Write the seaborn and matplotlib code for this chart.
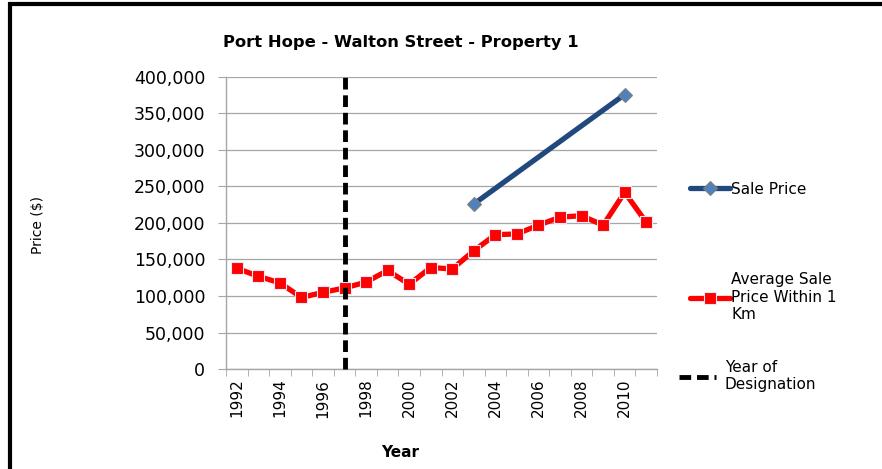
import matplotlib
matplotlib.use("Agg")
import matplotlib.pyplot as plt
from matplotlib.lines import Line2D
from matplotlib.patches import Rectangle
from matplotlib.ticker import FuncFormatter, FixedLocator
import numpy as np
import pandas as pd
import seaborn as sns

# data
years = list(range(1992, 2012))
avg_price = [138000, 127000, 118000, 98000, 105000, 111000, 119000, 135000, 116000, 139000,
             137000, 162000, 184000, 185000, 197000, 208000, 210000, 197000, 242000, 201000]
sale_years = [2003, 2010]
sale_price = [226000, 376000]
designation_year = 1997

df_avg = pd.DataFrame({"Year": years, "Price": avg_price})
df_sale = pd.DataFrame({"Year": sale_years, "Price": sale_price})

sns.set_style("white")
plt.rcParams["font.family"] = ["DejaVu Sans"]
plt.rcParams["text.color"] = "black"
plt.rcParams["xtick.labelcolor"] = "black"
plt.rcParams["ytick.labelcolor"] = "black"

fig = plt.figure(figsize=(8.82, 4.69), dpi=100)
ax = fig.add_axes([226 / 882, 1 - 369 / 469, (657 - 226) / 882, (369 - 77) / 469])

sns.lineplot(data=df_sale, x="Year", y="Price", ax=ax, color="#22497e", linewidth=3.8,
             marker="D", markersize=7, markerfacecolor="#4f81bd", markeredgecolor="#7f7f7f",
             markeredgewidth=0.8, label="Sale Price", zorder=3)
sns.lineplot(data=df_avg, x="Year", y="Price", ax=ax, color="#ff0000", linewidth=3.8,
             marker="s", markersize=9, markerfacecolor="#ff0000", markeredgecolor="#e8e8f8",
             markeredgewidth=0.8, label="Average Sale\nPrice Within 1\nKm", zorder=3)
ax.axvline(designation_year, ymin=0, ymax=1.017, color="black", linewidth=3.5,
           linestyle=(0, (2.4, 1.2)), clip_on=False, zorder=4)

ax.set_xlim(1991.5, 2011.5)
ax.set_ylim(0, 400000)
ax.set_yticks(np.arange(0, 400001, 50000))
ax.yaxis.set_major_formatter(FuncFormatter(lambda v, p: f"{int(v):,}"))
ax.set_xticks(list(range(1992, 2011, 2)))
ax.xaxis.set_minor_locator(FixedLocator(np.arange(1991.5, 2012, 1)))
ax.tick_params(axis="x", which="major", length=0, labelrotation=90, labelsize=11, pad=7)
ax.tick_params(axis="x", which="minor", length=5, color="#a6a6a6", direction="out", bottom=True)
ax.tick_params(axis="y", length=6, color="#a6a6a6", direction="out", left=True, labelsize=12.5, pad=9)

ax.grid(axis="y", color="#a6a6a6", linewidth=0.9)
ax.grid(axis="x", visible=False)
for side in ["top", "right"]:
    ax.spines[side].set_visible(False)
for side in ["left", "bottom"]:
    ax.spines[side].set_color("#a6a6a6")
    ax.spines[side].set_linewidth(1)

ax.set_xlabel("")
ax.set_ylabel("")
ax.get_legend().remove()

fig.text(401 / 882, 1 - 42 / 469, "Port Hope - Walton Street - Property 1",
         ha="center", va="center", fontsize=11.8, fontweight="bold")
fig.text(38 / 882, 1 - 225 / 469, "Price ($)", ha="center", va="center",
         rotation=90, fontsize=10)
fig.text(400 / 882, 1 - 452 / 469, "Year", ha="center", va="center",
         fontsize=11, fontweight="bold")

# legend entries placed like the original
h_sale, h_avg = ax.get_lines()[0], ax.get_lines()[1]
leg_kw = dict(frameon=False, fontsize=11, handlelength=2.6, handletextpad=0.1,
              loc="center left", borderaxespad=0)
fig.legend([h_sale], ["Sale Price"], bbox_to_anchor=(684 / 882, 1 - 189 / 469), **leg_kw)
fig.legend([h_avg], ["Average Sale\nPrice Within 1\nKm"],
           bbox_to_anchor=(684 / 882, 1 - 297 / 469), **leg_kw)
dash_handle = Line2D([], [], color="black", linewidth=3.5, linestyle=(0, (2.4, 1.2)))
fig.legend([dash_handle], ["Year of\nDesignation"], bbox_to_anchor=(673 / 882, 1 - 376 / 469),
           frameon=False, fontsize=11, handlelength=2.4, handletextpad=0.6,
           loc="center left", borderaxespad=0)

# outer border of the chart area
fig.patches.append(Rectangle((9.5 / 882, -0.1), 1.2, 1 - 4.5 / 469 + 0.1, transform=fig.transFigure,
                             fill=False, edgecolor="black", linewidth=3, zorder=10))

fig.savefig("out.png", dpi=100)
